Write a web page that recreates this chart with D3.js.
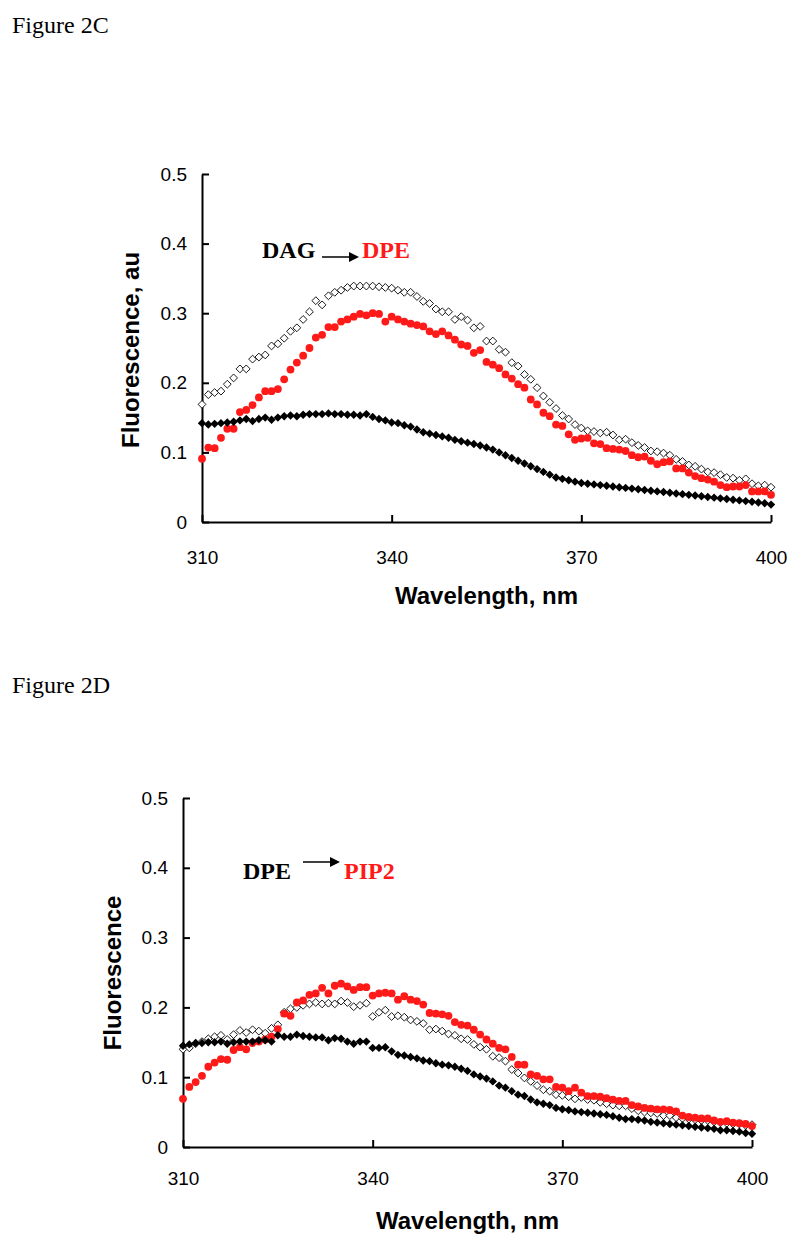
<!DOCTYPE html>
<html>
<head>
<meta charset="utf-8">
<script src="https://cdn.jsdelivr.net/npm/d3@7"></script>
<style>
  body { margin: 0; background: #fff; }
  svg { display: block; }
  .tick text { font-family: "Liberation Sans", Arial, sans-serif; font-size: 19px; fill: #000; }
  .axis path, .axis line { stroke: #000; stroke-width: 2; }
  .title { font-family: "Liberation Sans", Arial, sans-serif; font-size: 24px; font-weight: bold; }
  .fig { font-family: "Liberation Serif", "Times New Roman", serif; font-size: 24px; }
  .note { font-family: "Liberation Serif", "Times New Roman", serif; font-size: 24px; font-weight: bold; }
</style>
</head>
<body>
<script>
// wavelengths, 1 nm steps
var wavelengths = d3.range(310, 401);
var xTicks = [310, 340, 370, 400];
var yTicks = [0, 0.1, 0.2, 0.3, 0.4, 0.5];

// Figure 2C  (DAG -> DPE)
var c_open = [0.169,0.183,0.186,0.188,0.198,0.207,0.220,0.220,0.234,0.237,
  0.240,0.253,0.256,0.264,0.274,0.279,0.291,0.302,0.318,0.312,
  0.325,0.330,0.333,0.337,0.339,0.339,0.339,0.339,0.338,0.337,
  0.336,0.333,0.330,0.330,0.324,0.317,0.314,0.306,0.302,0.302,
  0.291,0.295,0.290,0.279,0.281,0.260,0.260,0.248,0.244,0.229,
  0.224,0.212,0.205,0.193,0.181,0.172,0.163,0.153,0.148,0.140,
  0.135,0.131,0.130,0.128,0.129,0.125,0.118,0.119,0.114,0.110,
  0.107,0.102,0.101,0.099,0.096,0.090,0.087,0.082,0.080,0.076,
  0.072,0.071,0.068,0.064,0.063,0.060,0.062,0.055,0.052,0.053,0.050];
var c_red = [0.091,0.107,0.106,0.121,0.134,0.134,0.158,0.161,0.168,0.179,
  0.188,0.188,0.191,0.205,0.219,0.229,0.239,0.250,0.265,0.269,
  0.280,0.280,0.288,0.291,0.295,0.299,0.297,0.300,0.299,0.288,
  0.295,0.291,0.288,0.285,0.283,0.281,0.274,0.270,0.274,0.268,
  0.262,0.255,0.253,0.243,0.247,0.230,0.226,0.221,0.212,0.206,
  0.198,0.193,0.176,0.169,0.157,0.152,0.140,0.138,0.126,0.118,
  0.120,0.121,0.113,0.112,0.106,0.105,0.104,0.102,0.096,0.093,
  0.094,0.088,0.083,0.086,0.087,0.077,0.077,0.071,0.066,0.063,
  0.061,0.058,0.053,0.050,0.051,0.051,0.053,0.044,0.044,0.044,0.039];
var c_black = [0.142,0.140,0.141,0.142,0.143,0.144,0.146,0.148,0.145,0.148,
  0.150,0.147,0.150,0.152,0.153,0.152,0.154,0.155,0.155,0.155,
  0.156,0.155,0.155,0.154,0.154,0.153,0.155,0.151,0.148,0.146,
  0.143,0.142,0.139,0.137,0.133,0.129,0.127,0.125,0.123,0.121,
  0.118,0.116,0.114,0.112,0.110,0.107,0.104,0.100,0.096,0.092,
  0.088,0.084,0.080,0.076,0.072,0.068,0.064,0.062,0.060,0.058,
  0.056,0.055,0.054,0.053,0.052,0.051,0.050,0.049,0.048,0.047,
  0.046,0.045,0.044,0.043,0.042,0.041,0.040,0.039,0.038,0.037,
  0.036,0.035,0.034,0.033,0.032,0.031,0.030,0.029,0.028,0.027,0.025];

// Figure 2D  (DPE -> PIP2)
var d_open = [0.140,0.142,0.148,0.151,0.155,0.158,0.160,0.154,0.161,0.167,
  0.164,0.168,0.166,0.163,0.170,0.175,0.193,0.198,0.200,0.203,
  0.205,0.207,0.205,0.206,0.205,0.209,0.207,0.201,0.203,0.206,
  0.187,0.193,0.196,0.187,0.188,0.186,0.182,0.180,0.177,0.168,
  0.169,0.166,0.162,0.160,0.155,0.154,0.147,0.143,0.140,0.130,
  0.128,0.123,0.111,0.106,0.099,0.094,0.088,0.082,0.080,0.075,
  0.074,0.072,0.069,0.071,0.068,0.067,0.064,0.062,0.060,0.059,
  0.059,0.055,0.052,0.050,0.049,0.048,0.045,0.045,0.042,0.041,
  0.040,0.039,0.038,0.038,0.036,0.035,0.034,0.033,0.033,0.031,0.032];
var d_red = [0.069,0.086,0.093,0.102,0.115,0.121,0.126,0.125,0.139,0.143,
  0.140,0.149,0.151,0.154,0.158,0.169,0.191,0.188,0.207,0.210,
  0.218,0.220,0.228,0.220,0.231,0.234,0.230,0.225,0.229,0.229,
  0.217,0.220,0.221,0.220,0.211,0.216,0.211,0.209,0.204,0.192,
  0.191,0.190,0.188,0.179,0.175,0.174,0.168,0.161,0.154,0.148,
  0.142,0.140,0.129,0.118,0.118,0.104,0.102,0.097,0.097,0.086,
  0.085,0.080,0.085,0.078,0.073,0.073,0.072,0.070,0.068,0.066,
  0.066,0.060,0.058,0.056,0.055,0.054,0.054,0.053,0.051,0.045,
  0.043,0.042,0.041,0.041,0.038,0.036,0.037,0.035,0.034,0.033,0.030];
var d_black = [0.145,0.147,0.149,0.149,0.150,0.150,0.151,0.148,0.150,0.151,
  0.151,0.151,0.153,0.153,0.151,0.160,0.158,0.158,0.161,0.159,
  0.158,0.157,0.157,0.153,0.156,0.155,0.151,0.148,0.151,0.151,
  0.142,0.142,0.143,0.137,0.132,0.131,0.129,0.127,0.124,0.123,
  0.120,0.118,0.117,0.115,0.112,0.109,0.104,0.101,0.098,0.094,
  0.088,0.085,0.080,0.075,0.073,0.068,0.064,0.062,0.060,0.056,
  0.054,0.053,0.051,0.050,0.049,0.048,0.047,0.046,0.044,0.042,
  0.040,0.040,0.039,0.038,0.036,0.035,0.034,0.033,0.032,0.031,
  0.030,0.029,0.028,0.027,0.026,0.024,0.024,0.023,0.022,0.020,0.019];

var RED = "#ff1a1a";

var svg = d3.select("body").append("svg")
  .attr("width", 800)
  .attr("height", 1243);

// figure captions
svg.append("text").attr("class", "fig").attr("x", 12).attr("y", 33).text("Figure 2C");
svg.append("text").attr("class", "fig").attr("x", 12).attr("y", 693).text("Figure 2D");

function drawPanel(p) {
  var x = d3.scaleLinear().domain([310, 400]).range([p.left, p.right]);
  var y = d3.scaleLinear().domain([0, 0.5]).range([p.bottom, p.top]);

  // axes, ticks point inward like the Excel original
  svg.append("g")
    .attr("class", "axis")
    .attr("transform", `translate(0, ${p.bottom})`)
    .call(d3.axisBottom(x).tickValues(xTicks).tickFormat(d3.format("d"))
      .tickSizeInner(-7).tickSizeOuter(0).tickPadding(p.xPad));

  svg.append("g")
    .attr("class", "axis")
    .attr("transform", `translate(${p.left}, 0)`)
    .call(d3.axisLeft(y).tickValues(yTicks).tickFormat(d => d === 0 ? "0" : d3.format(".1f")(d))
      .tickSizeInner(-7).tickSizeOuter(0).tickPadding(15));

  svg.selectAll(".axis text").attr("fill", "#000");

  var pts = wavelengths.map((w, i) => ({ w: w, open: p.open[i], red: p.red[i], black: p.black[i] }));

  // open diamonds
  svg.append("g").selectAll("path")
    .data(pts).enter().append("path")
    .attr("d", "M0,-3.9L3.9,0L0,3.9L-3.9,0Z")
    .attr("transform", d => `translate(${x(d.w)},${y(d.open)})`)
    .attr("fill", "#fff")
    .attr("stroke", "#000")
    .attr("stroke-width", 0.9);

  // red circles
  svg.append("g").selectAll("circle")
    .data(pts).enter().append("circle")
    .attr("cx", d => x(d.w))
    .attr("cy", d => y(d.red))
    .attr("r", 3.9)
    .attr("fill", RED);

  // filled black diamonds
  svg.append("g").selectAll("path")
    .data(pts).enter().append("path")
    .attr("d", "M0,-4.2L4.2,0L0,4.2L-4.2,0Z")
    .attr("transform", d => `translate(${x(d.w)},${y(d.black)})`)
    .attr("fill", "#000");

  // axis titles
  svg.append("text")
    .attr("class", "title")
    .attr("x", (p.left + p.right) / 2)
    .attr("y", p.bottom + p.xTitleDy)
    .attr("text-anchor", "middle")
    .text("Wavelength, nm");

  svg.append("text")
    .attr("class", "title")
    .attr("transform", `translate(${p.yTitleX}, ${p.yTitleY}) rotate(-90)`)
    .attr("text-anchor", "middle")
    .text(p.yTitle);

  // annotation: lipid A -> lipid B
  svg.append("text").attr("class", "note")
    .attr("x", p.noteA[0]).attr("y", p.noteA[1]).text(p.labelA);
  svg.append("line")
    .attr("x1", p.arrow[0]).attr("y1", p.arrow[2])
    .attr("x2", p.arrow[1] - 8).attr("y2", p.arrow[2])
    .attr("stroke", "#000").attr("stroke-width", 1.5);
  svg.append("path")
    .attr("d", `M${p.arrow[1]},${p.arrow[2]}L${p.arrow[1] - 10},${p.arrow[2] - 5}L${p.arrow[1] - 10},${p.arrow[2] + 5}Z`)
    .attr("fill", "#000");
  svg.append("text").attr("class", "note")
    .attr("x", p.noteB[0]).attr("y", p.noteB[1])
    .attr("fill", RED).text(p.labelB);
}

drawPanel({
  left: 202, right: 771, top: 174, bottom: 522,
  xPad: 29, xTitleDy: 82,
  yTitleX: 139, yTitleY: 350, yTitle: "Fluorescence, au",
  open: c_open, red: c_red, black: c_black,
  labelA: "DAG", labelB: "DPE",
  noteA: [262, 258], noteB: [362, 258], arrow: [322, 359, 257]
});

drawPanel({
  left: 183, right: 752, top: 798, bottom: 1147,
  xPad: 25, xTitleDy: 82,
  yTitleX: 121, yTitleY: 973, yTitle: "Fluorescence",
  open: d_open, red: d_red, black: d_black,
  labelA: "DPE", labelB: "PIP2",
  noteA: [243, 879], noteB: [344, 879], arrow: [303, 340, 862]
});
</script>
</body>
</html>
